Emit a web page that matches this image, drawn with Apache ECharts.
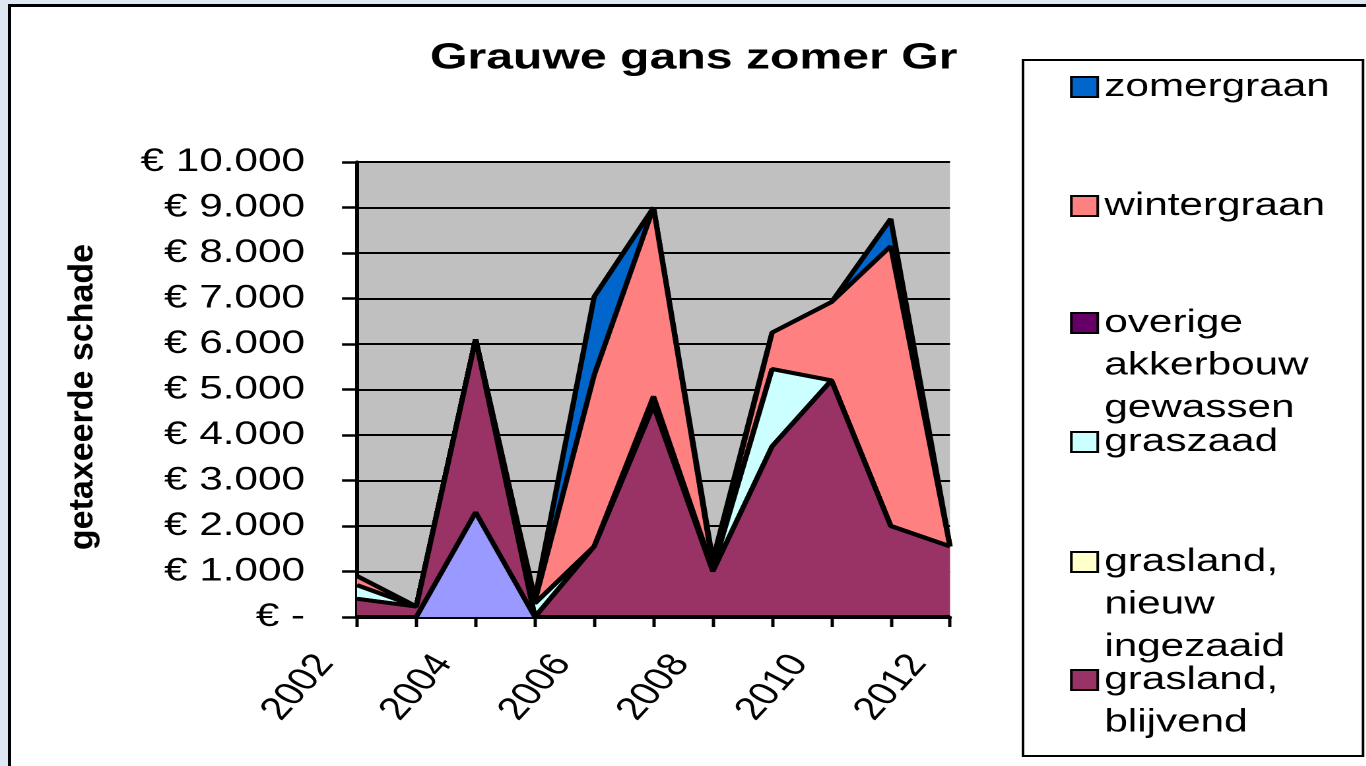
<!DOCTYPE html>
<html>
<head>
<meta charset="utf-8">
<title>Grauwe gans zomer Gr</title>
<script src="https://cdn.jsdelivr.net/npm/echarts@6/dist/echarts.min.js"></script>
<style>
  html, body { margin: 0; padding: 0; width: 1366px; height: 766px; overflow: hidden; background: #dde8f4; }
  #frame { position: absolute; left: 8px; top: 4px; width: 1420px; height: 820px; border: 3px solid #000; background: #fff; }
  /* the reference has its text stretched sideways, so the chart is drawn narrow and widened */
  #main { position: absolute; left: 0; top: 0; width: 1035px; height: 766px; transform: scaleX(1.32); transform-origin: 0 0; }
</style>
</head>
<body>
<div id="frame"></div>
<div id="main"></div>
<script>
var SX = 1.32;
var FONT = '"Liberation Sans", Arial, sans-serif';

// data
var years = ['2002','2003','2004','2005','2006','2007','2008','2009','2010','2011','2012'];
var reeks1      = [0, 0, 2300, 0, 0, 0, 0, 0, 0, 0, 0];
var blijvend    = [400, 230, 3800, 0, 1550, 4650, 1000, 3750, 5200, 2000, 1550];
var nieuw       = [0, 0, 0, 0, 0, 0, 0, 0, 0, 0, 0];
var graszaad    = [300, 0, 0, 300, 0, 0, 50, 1700, 0, 0, 0];
var overige     = [0, 0, 0, 0, 0, 200, 0, 0, 0, 0, 0];
var wintergraan = [200, 0, 0, 50, 3770, 4150, 100, 800, 1720, 6150, 0];
var zomergraan  = [0, 0, 0, 50, 1720, 0, 100, 0, 0, 600, 0];

// stack order, bottom first
var seriesNames  = ['Reeks1', 'grasland, blijvend', 'grasland, nieuw ingezaaid', 'graszaad', 'overige akkerbouw gewassen', 'wintergraan', 'zomergraan'];
var seriesData   = [reeks1, blijvend, nieuw, graszaad, overige, wintergraan, zomergraan];
var seriesColors = ['#9999FF', '#993366', '#FFFFCC', '#CCFFFF', '#660066', '#FF8080', '#0066CC'];

// legend, top to bottom
var legendNames  = ['zomergraan', 'wintergraan', 'overige akkerbouw gewassen', 'graszaad', 'grasland, nieuw ingezaaid', 'grasland, blijvend'];
var legendLines  = [['zomergraan'], ['wintergraan'], ['overige', 'akkerbouw', 'gewassen'], ['graszaad'], ['grasland,', 'nieuw', 'ingezaaid'], ['grasland,', 'blijvend']];
var legendIconY  = [87, 206, 323, 442, 562, 680];

function px(x) { return x / SX; }

function euro(v) {
  if (v === 0) return '€ -';
  return '€ ' + String(v).replace(/\B(?=(\d{3})+(?!\d))/g, '.');
}

var LH = 42.5;
var legends = [];
for (var i = 0; i < legendNames.length; i++) {
  var n = legendLines[i].length;
  // blank lines in front keep the first line level with the icon
  var txt = new Array(n).join('\n') + legendLines[i].join('\n');
  var total = 2 * n - 1;
  legends.push({
    orient: 'vertical',
    left: px(1070),
    top: legendIconY[i] - total * LH / 2,
    padding: 0,
    itemWidth: 20,
    itemHeight: 20,
    icon: 'rect',
    selectedMode: false,
    formatter: (function (t) { return function () { return t; }; })(txt),
    textStyle: { fontSize: 32, lineHeight: LH, color: '#000', fontFamily: FONT },
    data: [{
      name: legendNames[i],
      itemStyle: { color: seriesColors[seriesNames.indexOf(legendNames[i])], borderColor: '#000', borderWidth: 2 }
    }]
  });
}

var series = [];
for (var k = 0; k < seriesNames.length; k++) {
  series.push({
    name: seriesNames[k],
    type: 'line',
    stack: 'total',
    symbol: 'none',
    z: 20 - k,
    data: seriesData[k],
    itemStyle: { color: seriesColors[k] },
    lineStyle: { color: '#000', width: 4 },
    areaStyle: { color: seriesColors[k], opacity: 1 },
    emphasis: { disabled: true }
  });
}

var chart = echarts.init(document.getElementById('main'), null, { devicePixelRatio: 2 });
chart.setOption({
  animation: false,
  title: {
    text: 'Grauwe gans zomer Gr',
    left: px(430),
    top: 40,
    padding: 0,
    textStyle: { fontSize: 36.5, fontWeight: 'bold', color: '#000', fontFamily: FONT }
  },
  legend: legends,
  grid: {
    left: px(357),
    right: 1035 - px(950),
    top: 162,
    bottom: 766 - 617,
    show: true,
    backgroundColor: '#C0C0C0',
    borderWidth: 0
  },
  xAxis: {
    type: 'category',
    data: years,
    boundaryGap: false,
    axisLine: { lineStyle: { color: '#000', width: 3 } },
    axisTick: { interval: 0, length: 10, lineStyle: { color: '#000', width: 2.5 } },
    axisLabel: {
      interval: 1,
      rotate: 55,
      margin: 7,
      padding: [0, 42, 0, 0],
      fontSize: 32,
      color: '#000',
      fontFamily: FONT
    },
    splitLine: { show: false }
  },
  yAxis: {
    type: 'value',
    min: 0,
    max: 10000,
    interval: 1000,
    axisLine: { show: true, lineStyle: { color: '#000', width: 3 } },
    axisTick: { show: true, length: px(15), lineStyle: { color: '#000', width: 2.5 } },
    axisLabel: { formatter: euro, margin: px(52), fontSize: 32, color: '#000', fontFamily: FONT },
    splitLine: { lineStyle: { color: '#000', width: 2 } }
  },
  graphic: [
    {
      type: 'rect',
      shape: { x: px(1023), y: 60, width: px(1363) - px(1023), height: 696 },
      style: { fill: '#fff', stroke: '#000', lineWidth: 2 },
      z: -1
    },
    {
      type: 'text',
      x: px(83),
      y: 397,
      rotation: Math.PI / 2,
      scaleY: 1 / SX,
      style: {
        text: 'getaxeerde schade',
        fontSize: 34,
        fontWeight: 'bold',
        fontFamily: FONT,
        fill: '#000',
        align: 'center',
        verticalAlign: 'middle'
      }
    }
  ],
  series: series
});
</script>
</body>
</html>
